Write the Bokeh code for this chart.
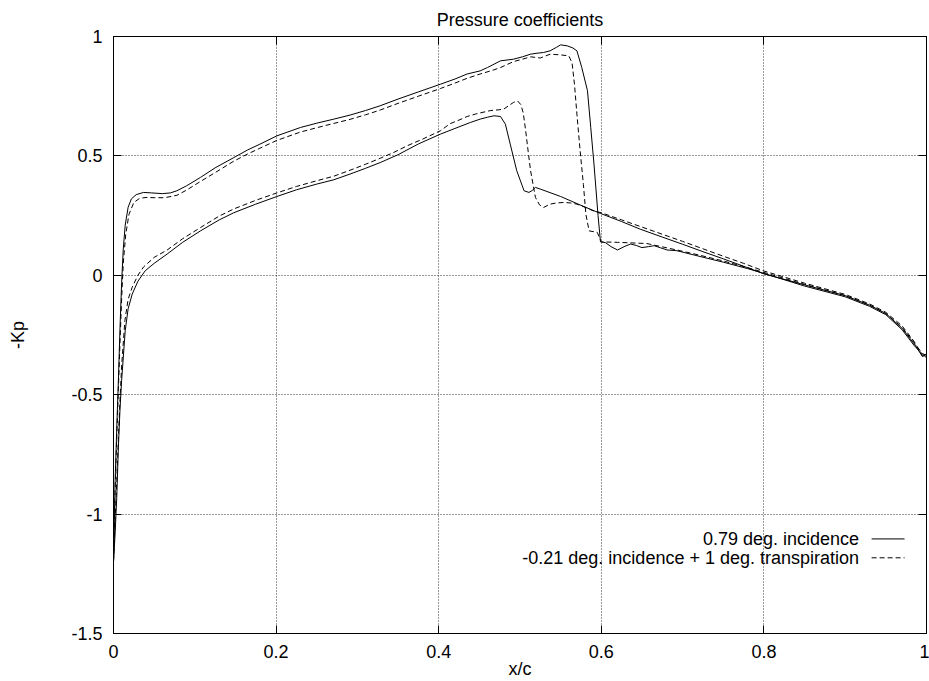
from bokeh.plotting import figure
from bokeh.models import Range1d, FixedTicker, LinearAxis, Label
from bokeh.embed import file_html
from bokeh.resources import INLINE

# ---------------- data ----------------
title_text = "Pressure coefficients"
x_label_text = "x/c"
y_label_text = "-Kp"
series_names = ["0.79 deg. incidence", "-0.21 deg. incidence + 1 deg. transpiration"]

x_ticks = [0, 0.2, 0.4, 0.6, 0.8, 1]
x_tick_labels = ["0", "0.2", "0.4", "0.6", "0.8", "1"]
y_ticks = [-1.5, -1, -0.5, 0, 0.5, 1]
y_tick_labels = ["-1.5", "-1", "-0.5", "0", "0.5", "1"]

# 0.79 deg. incidence -- upper surface (leading edge -> trailing edge)
x_up_079 = [0.0, 0.001, 0.002, 0.004, 0.006, 0.008, 0.010, 0.012, 0.0144, 0.018, 0.022, 0.028, 0.037, 0.047, 0.06,
            0.07, 0.078, 0.09, 0.107, 0.125, 0.148, 0.165, 0.18, 0.201, 0.23, 0.25, 0.271, 0.291, 0.31, 0.328, 0.35,
            0.375, 0.402, 0.42, 0.435, 0.451, 0.46, 0.476, 0.492, 0.503, 0.513, 0.521, 0.529, 0.537, 0.545, 0.55,
            0.558, 0.565, 0.57, 0.576, 0.583, 0.587, 0.591, 0.596, 0.599, 0.605, 0.612, 0.62, 0.628, 0.636, 0.643,
            0.65, 0.658, 0.665, 0.673, 0.681, 0.693, 0.72, 0.75, 0.78, 0.80, 0.85, 0.9, 0.93, 0.95, 0.97, 0.985,
            0.995, 1.0]
y_up_079 = [-1.2, -1.02, -0.86, -0.64, -0.44, -0.22, -0.03, 0.11, 0.21, 0.285, 0.32, 0.338, 0.347, 0.345, 0.342,
            0.345, 0.354, 0.375, 0.41, 0.45, 0.493, 0.525, 0.549, 0.584, 0.619, 0.637, 0.654, 0.671, 0.69, 0.71,
            0.738, 0.768, 0.80, 0.822, 0.843, 0.856, 0.87, 0.898, 0.905, 0.915, 0.926, 0.93, 0.933, 0.94, 0.955,
            0.965, 0.961, 0.952, 0.94, 0.87, 0.773, 0.62, 0.466, 0.25, 0.14, 0.137, 0.12, 0.106, 0.12, 0.131, 0.125,
            0.116, 0.12, 0.124, 0.115, 0.106, 0.103, 0.08, 0.055, 0.028, 0.008, -0.045, -0.09, -0.13, -0.165,
            -0.228, -0.295, -0.33, -0.345]
# 0.79 deg. incidence -- lower surface
x_lo_079 = [0.0, 0.001, 0.002, 0.004, 0.006, 0.008, 0.010, 0.0144, 0.018, 0.023, 0.03, 0.039, 0.05, 0.066, 0.085,
            0.107, 0.13, 0.148, 0.175, 0.201, 0.225, 0.25, 0.271, 0.291, 0.31, 0.328, 0.35, 0.375, 0.402, 0.42,
            0.439, 0.451, 0.46, 0.468, 0.476, 0.482, 0.488, 0.496, 0.505, 0.511, 0.515, 0.519, 0.525, 0.55, 0.575,
            0.599, 0.625, 0.648, 0.675, 0.70, 0.725, 0.75, 0.775, 0.80, 0.85, 0.9, 0.93, 0.95, 0.97, 0.985, 0.995,
            1.0]
y_lo_079 = [-1.2, -1.14, -1.08, -0.93, -0.72, -0.56, -0.44, -0.232, -0.14, -0.079, -0.025, 0.019, 0.05, 0.089,
            0.138, 0.186, 0.232, 0.262, 0.298, 0.33, 0.358, 0.382, 0.4, 0.424, 0.448, 0.472, 0.505, 0.55, 0.591,
            0.615, 0.64, 0.654, 0.662, 0.668, 0.665, 0.633, 0.549, 0.438, 0.354, 0.347, 0.355, 0.368, 0.361, 0.33,
            0.293, 0.259, 0.225, 0.193, 0.16, 0.13, 0.099, 0.069, 0.038, 0.006, -0.04, -0.085, -0.125, -0.16,
            -0.222, -0.288, -0.34, -0.33]

# -0.21 deg. incidence + 1 deg. transpiration -- upper surface
x_up_021 = [0.0, 0.001, 0.002, 0.004, 0.006, 0.008, 0.010, 0.012, 0.015, 0.019, 0.025, 0.032, 0.04, 0.05, 0.063,
            0.078, 0.09, 0.107, 0.125, 0.148, 0.165, 0.18, 0.201, 0.23, 0.25, 0.271, 0.291, 0.31, 0.328, 0.35,
            0.375, 0.402, 0.42, 0.435, 0.451, 0.465, 0.476, 0.492, 0.503, 0.513, 0.525, 0.537, 0.55, 0.56, 0.564,
            0.567, 0.57, 0.574, 0.578, 0.581, 0.585, 0.595, 0.6, 0.62, 0.656, 0.697, 0.72, 0.75, 0.78, 0.8, 0.85,
            0.9, 0.93, 0.95, 0.97, 0.985, 0.995, 1.0]
y_up_021 = [-1.2, -1.05, -0.9, -0.68, -0.48, -0.28, -0.1, 0.05, 0.17, 0.255, 0.305, 0.322, 0.326, 0.325, 0.325,
            0.335, 0.357, 0.393, 0.43, 0.478, 0.508, 0.532, 0.565, 0.6, 0.618, 0.636, 0.653, 0.672, 0.692, 0.72,
            0.75, 0.782, 0.805, 0.825, 0.843, 0.857, 0.87, 0.895, 0.905, 0.915, 0.91, 0.926, 0.923, 0.919, 0.89,
            0.8, 0.675, 0.52, 0.38, 0.256, 0.186, 0.18, 0.14, 0.138, 0.133, 0.103, 0.085, 0.06, 0.032, 0.012,
            -0.038, -0.085, -0.125, -0.16, -0.218, -0.283, -0.328, -0.335]
# -0.21 deg. incidence + 1 deg. transpiration -- lower surface
x_lo_021 = [0.0, 0.001, 0.002, 0.004, 0.006, 0.008, 0.010, 0.014, 0.018, 0.023, 0.03, 0.037, 0.05, 0.066, 0.085,
            0.107, 0.13, 0.148, 0.175, 0.201, 0.225, 0.25, 0.271, 0.291, 0.31, 0.328, 0.345, 0.361, 0.38, 0.402,
            0.414, 0.425, 0.435, 0.445, 0.451, 0.464, 0.474, 0.48, 0.486, 0.492, 0.497, 0.501, 0.504, 0.507, 0.51,
            0.513, 0.519, 0.524, 0.529, 0.537, 0.545, 0.554, 0.562, 0.57, 0.58, 0.59, 0.6, 0.625, 0.65, 0.675, 0.7,
            0.725, 0.75, 0.775, 0.8, 0.85, 0.9, 0.93, 0.95, 0.97, 0.985, 0.995, 1.0]
y_lo_021 = [-1.2, -1.1, -1.02, -0.86, -0.68, -0.52, -0.38, -0.19, -0.1, -0.05, 0.0, 0.035, 0.075, 0.106, 0.153,
            0.2, 0.248, 0.278, 0.314, 0.345, 0.372, 0.396, 0.415, 0.44, 0.465, 0.49, 0.515, 0.542, 0.57, 0.605,
            0.635, 0.65, 0.665, 0.675, 0.68, 0.69, 0.693, 0.696, 0.71, 0.724, 0.73, 0.715, 0.68, 0.605, 0.52,
            0.438, 0.326, 0.295, 0.284, 0.298, 0.303, 0.305, 0.303, 0.298, 0.285, 0.27, 0.262, 0.232, 0.202,
            0.172, 0.142, 0.111, 0.08, 0.05, 0.018, -0.033, -0.08, -0.12, -0.155, -0.212, -0.278, -0.338, -0.34]

# ---------------- styling ----------------
FONT = "Liberation Sans"
FS = "18px"
DASH = "5 3"

p = figure(width=929, height=681, output_backend="svg", toolbar_location=None,
           x_range=Range1d(0, 1), y_range=Range1d(-1.5, 1),
           min_border_left=113, min_border_right=3, min_border_top=36, min_border_bottom=48,
           title=title_text)
p.background_fill_color = "white"
p.border_fill_color = "white"
p.outline_line_color = "black"
p.outline_line_width = 1

p.title.align = "center"
p.title.text_font = FONT
p.title.text_font_size = FS
p.title.text_font_style = "normal"
p.title.text_color = "black"
p.title.standoff = 13

def style_axis(ax, ticks, labels):
    ax.ticker = FixedTicker(ticks=ticks)
    ax.major_label_overrides = {float(t): l for t, l in zip(ticks, labels)}
    ax.major_tick_in = 8
    ax.major_tick_out = 0
    ax.minor_tick_line_color = None
    ax.axis_line_color = "black"
    ax.major_tick_line_color = "black"
    ax.major_label_text_font = FONT
    ax.major_label_text_color = "black"
    ax.major_label_text_font_size = FS
    ax.major_label_standoff = 11

def mirror_axis(ax, ticks):
    # gnuplot-style mirrored ticks: drawn as minor ticks, so no label texts exist
    ax.ticker = FixedTicker(ticks=[], minor_ticks=ticks)
    ax.minor_tick_in = 8
    ax.minor_tick_out = 0
    ax.minor_tick_line_color = "black"
    ax.major_tick_line_color = None
    ax.axis_line_color = "black"
    ax.major_label_standoff = 0

xa = p.xaxis[0]
ya = p.yaxis[0]
style_axis(xa, x_ticks, x_tick_labels)
style_axis(ya, y_ticks, y_tick_labels)
xa.axis_label = x_label_text
ya.axis_label = y_label_text
for ax in (xa, ya):
    ax.axis_label_text_font = FONT
    ax.axis_label_text_font_size = FS
    ax.axis_label_text_font_style = "normal"
    ax.axis_label_text_color = "black"
xa.axis_label_standoff = -2
ya.axis_label_standoff = 40

top = LinearAxis()
mirror_axis(top, x_ticks)
p.add_layout(top, "above")
right = LinearAxis()
mirror_axis(right, y_ticks)
p.add_layout(right, "right")

p.xgrid.ticker = FixedTicker(ticks=x_ticks)
p.ygrid.ticker = FixedTicker(ticks=y_ticks)
for g in (p.xgrid, p.ygrid):
    g.grid_line_color = "black"
    g.grid_line_dash = "1 2"
    g.grid_line_width = 1
    g.grid_line_alpha = 0.8

# curves: upper surface from trailing edge to leading edge, then lower surface back
x_079 = x_up_079[::-1] + x_lo_079[1:]
y_079 = y_up_079[::-1] + y_lo_079[1:]
x_021 = x_up_021[::-1] + x_lo_021[1:]
y_021 = y_up_021[::-1] + y_lo_021[1:]

p.line(x_079, y_079, line_color="black", line_width=1)
p.line(x_021, y_021, line_color="black", line_width=1, line_dash=DASH)

# gnuplot-style key (text right-aligned, sample to its right), in data units
KEY_TEXT_X = 0.917
KEY_LINE_X0 = 0.9325
KEY_LINE_X1 = 0.973
KEY_Y = [-1.104, -1.183]
for name, yk, dash in zip(series_names, KEY_Y, ["solid", DASH]):
    p.add_layout(Label(x=KEY_TEXT_X, y=yk, text=name, text_align="right", text_baseline="middle",
                       text_font=FONT, text_font_size=FS, text_color="black"))
    p.line([KEY_LINE_X0, KEY_LINE_X1], [yk, yk], line_color="black", line_width=1, line_dash=dash)

open("out.html", "w").write(file_html(p, INLINE))
